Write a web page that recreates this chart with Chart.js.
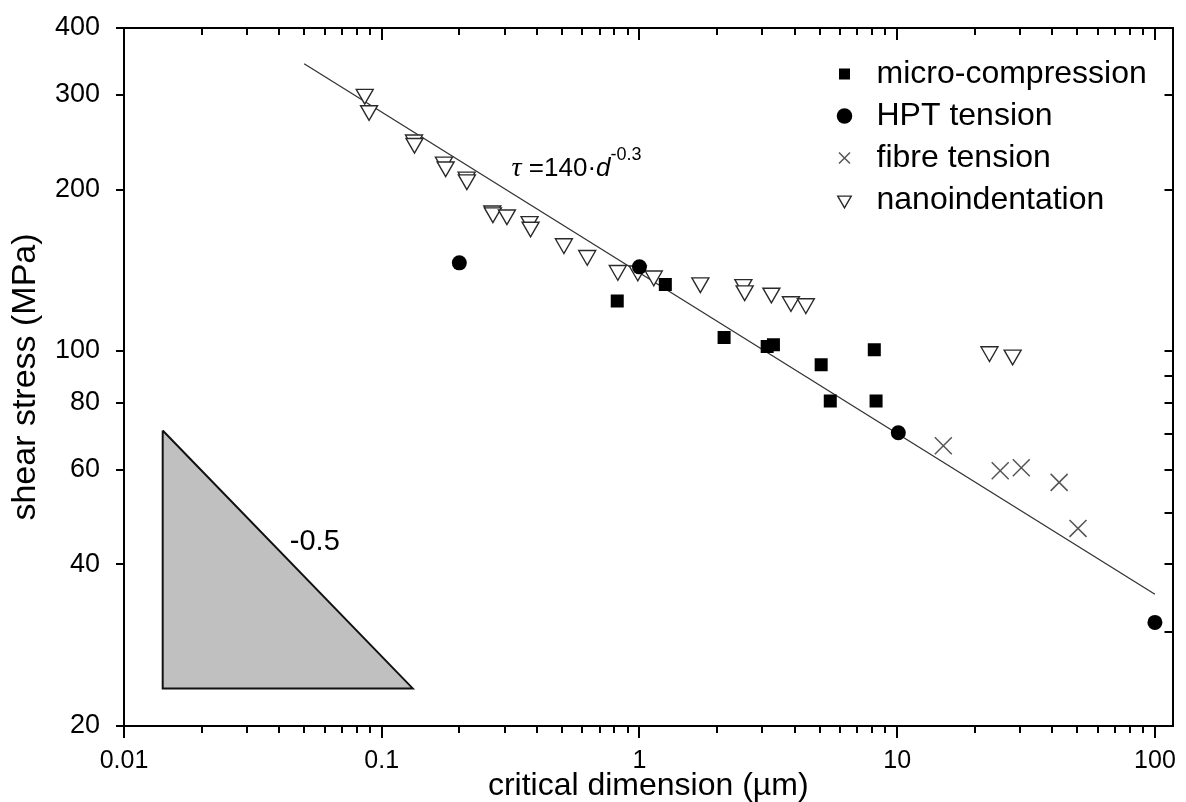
<!DOCTYPE html>
<html><head><meta charset="utf-8">
<script src="https://cdn.jsdelivr.net/npm/chart.js@4.4.1/dist/chart.umd.min.js"></script>
<style>html,body{margin:0;padding:0;background:#fff;}#wrap{width:1186px;height:802px;}canvas{display:block;}</style>
</head><body><div id="wrap"><canvas id="c" width="1186" height="802"></canvas></div>
<script>
// ---- data ----
const microX = [0.82, 1.26, 2.13, 3.13, 3.31, 5.07, 5.5, 8.15, 8.28];
const microY = [124, 133, 106, 101.9, 102.7, 94.3, 80.7, 100.5, 80.7];
const hptX = [0.2, 1.0, 10.1, 100];
const hptY = [146, 143.5, 70.4, 31.2];
const fibreX = [15.1, 25.1, 30.3, 42.5, 50.3];
const fibreY = [66.6, 59.8, 60.6, 56.9, 46.7];
const nanoX = [0.0859, 0.0893, 0.1334, 0.134, 0.1743, 0.177, 0.2135, 0.214, 0.2686, 0.27, 0.306, 0.3746, 0.378, 0.509, 0.627, 0.824, 0.985, 1.136, 1.723, 2.53, 2.56, 3.25, 3.87, 4.42, 22.8, 28.05];
const nanoY = [301, 280.6, 247.4, 243.8, 225, 220.4, 211, 208.5, 182.5, 181, 179.4, 174.3, 170.2, 158.5, 150.7, 141.3, 141, 138, 134, 133, 129.5, 128.2, 123.6, 122.5, 99.7, 98.3];
const fitX = [0.05, 100];
const fitY = [343, 35.2];
const slopeX = [0.01413, 0.01413, 0.1319, 0.01413];
const slopeY = [71.1, 23.5, 23.5, 71.1];
const seriesNames = ['micro-compression', 'HPT tension', 'fibre tension', 'nanoindentation'];
const xTickLabels = [0.01, 0.1, 1, 10, 100];
const yTickLabels = [20, 40, 60, 80, 100, 200, 300, 400];
const xTitle = 'critical dimension (\u00b5m)';
const yTitle = 'shear stress (MPa)';
const slopeText = '-0.5';

const pts = (xs, ys) => xs.map((x, i) => ({x, y: ys[i]}));
const FONT = '"Liberation Sans", Arial, sans-serif';
Chart.defaults.font.family = FONT;
Chart.defaults.color = '#000';

const near = (a, b) => Math.abs(a - b) < 1e-9 * Math.max(1, Math.abs(b));
const isNice = v => { const e = Math.floor(Math.log10(v) + 1e-9); const s = v / Math.pow(10, e); return Math.abs(s - Math.round(s)) < 1e-6; };
const noPad = s => { s.paddingTop = 0; s.paddingBottom = 0; s.paddingLeft = 0; s.paddingRight = 0; };

const layoutPlugin = {
  id: 'legendPlace',
  afterLayout(chart) {
    const lg = chart.legend, a = chart.chartArea;
    lg.left = a.right - 354;
    lg.top = a.top + 20;
    lg.right = a.right; lg.bottom = a.bottom;
  }
};

const decoPlugin = {
  id: 'deco',
  afterDraw(chart) {
    const {ctx, chartArea: a, scales: {x, y}} = chart;
    ctx.save();
    ctx.strokeStyle = '#000'; ctx.lineWidth = 2;
    const seg = (x1, y1, x2, y2) => { ctx.beginPath(); ctx.moveTo(x1, y1); ctx.lineTo(x2, y2); ctx.stroke(); };
    x.ticks.forEach(t => {
      if (!isNice(t.value)) return;
      const px = Math.round(x.getPixelForValue(t.value));
      const major = xTickLabels.some(v => near(v, t.value));
      const L = major ? 12 : 7;
      seg(px, a.bottom, px, a.bottom + L);
      seg(px, a.top, px, a.top + L);
    });
    y.ticks.forEach(t => {
      if (!isNice(t.value)) return;
      const py = Math.round(y.getPixelForValue(t.value));
      if (yTickLabels.some(v => near(v, t.value))) seg(a.left - 8, py, a.left, py);
      seg(a.right - 8, py, a.right, py);
    });
    // equation label
    ctx.fillStyle = '#000';
    ctx.textBaseline = 'alphabetic';
    let px = x.getPixelForValue(0.319), py = y.getPixelForValue(212);
    const parts = [
      ['\u03c4', 'italic 28px "Liberation Serif", serif', 0],
      [' =140\u00b7', '26px ' + FONT, 0],
      ['d', 'italic 26px ' + FONT, 0],
      ['-0.3', '18px ' + FONT, -16]
    ];
    parts.forEach(([t, f, dy]) => { ctx.font = f; ctx.fillText(t, px, py + dy); px += ctx.measureText(t).width; });
    // slope label
    ctx.font = '29px ' + FONT;
    ctx.fillText(slopeText, x.getPixelForValue(0.044), y.getPixelForValue(42.6));
    ctx.restore();
  }
};

const axisBase = (pos, min, max) => ({
  type: 'logarithmic', position: pos, min, max,
  border: {display: true, color: '#000', width: 2},
  grid: {display: false, drawTicks: false, drawOnChartArea: false}
});

new Chart(document.getElementById('c'), {
  type: 'scatter',
  data: {
    datasets: [
      {label: seriesNames[0], data: pts(microX, microY), pointStyle: 'rect', pointRadius: 9.2, backgroundColor: '#000', borderColor: '#000', borderWidth: 0},
      {label: seriesNames[1], data: pts(hptX, hptY), pointStyle: 'circle', pointRadius: 7.5, backgroundColor: '#000', borderColor: '#000', borderWidth: 0},
      {label: seriesNames[2], data: pts(fibreX, fibreY), pointStyle: 'crossRot', pointRadius: 12, backgroundColor: '#555', borderColor: '#555', borderWidth: 1.5},
      {label: seriesNames[3], data: pts(nanoX, nanoY), pointStyle: 'triangle', rotation: 180, pointRadius: 9.8, backgroundColor: '#fff', borderColor: '#2a2a2a', borderWidth: 1.4},
      {label: 'fit', data: pts(fitX, fitY), showLine: true, pointRadius: 0, borderColor: '#333', borderWidth: 1.3, fill: false},
      {label: 'slope', data: pts(slopeX, slopeY), showLine: true, pointRadius: 0, borderColor: '#111', borderWidth: 2, backgroundColor: '#c0c0c0', fill: 'shape'}
    ]
  },
  options: {
    responsive: false, animation: false, devicePixelRatio: 1, events: [],
    layout: {padding: {left: 0, top: 28, right: 9, bottom: 0}},
    scales: {
      x: Object.assign(axisBase('bottom', 0.01, 117), {
        ticks: {autoSkip: false, maxRotation: 0, padding: 20, font: {size: 25},
          callback: v => xTickLabels.some(t => near(t, v)) ? String(v) : ''},
        title: {display: true, text: xTitle, font: {size: 32, lineHeight: 1}, padding: 0},
        afterFit: s => { s.height = 76; noPad(s); }
      }),
      y: Object.assign(axisBase('left', 20, 400), {
        ticks: {autoSkip: false, padding: 24, font: {size: 27},
          callback: v => yTickLabels.some(t => near(t, v)) ? String(v) : ''},
        title: {display: true, text: yTitle, font: {size: 34, lineHeight: 1}, padding: {top: 9, bottom: 0}},
        afterFit: s => { s.width = 124; noPad(s); }
      }),
      x2: Object.assign(axisBase('top', 0.01, 117), {ticks: {display: false}, afterFit: s => { s.height = 0; noPad(s); }}),
      y2: Object.assign(axisBase('right', 20, 400), {ticks: {display: false}, afterFit: s => { s.width = 0; noPad(s); }})
    },
    plugins: {
      tooltip: {enabled: false},
      legend: {
        position: 'chartArea', align: 'start',
        labels: {usePointStyle: true, boxHeight: 11, boxWidth: 32, padding: 10, font: {size: 32},
          filter: item => item.datasetIndex < 4}
      }
    }
  },
  plugins: [layoutPlugin, decoPlugin]
});
</script></body></html>
